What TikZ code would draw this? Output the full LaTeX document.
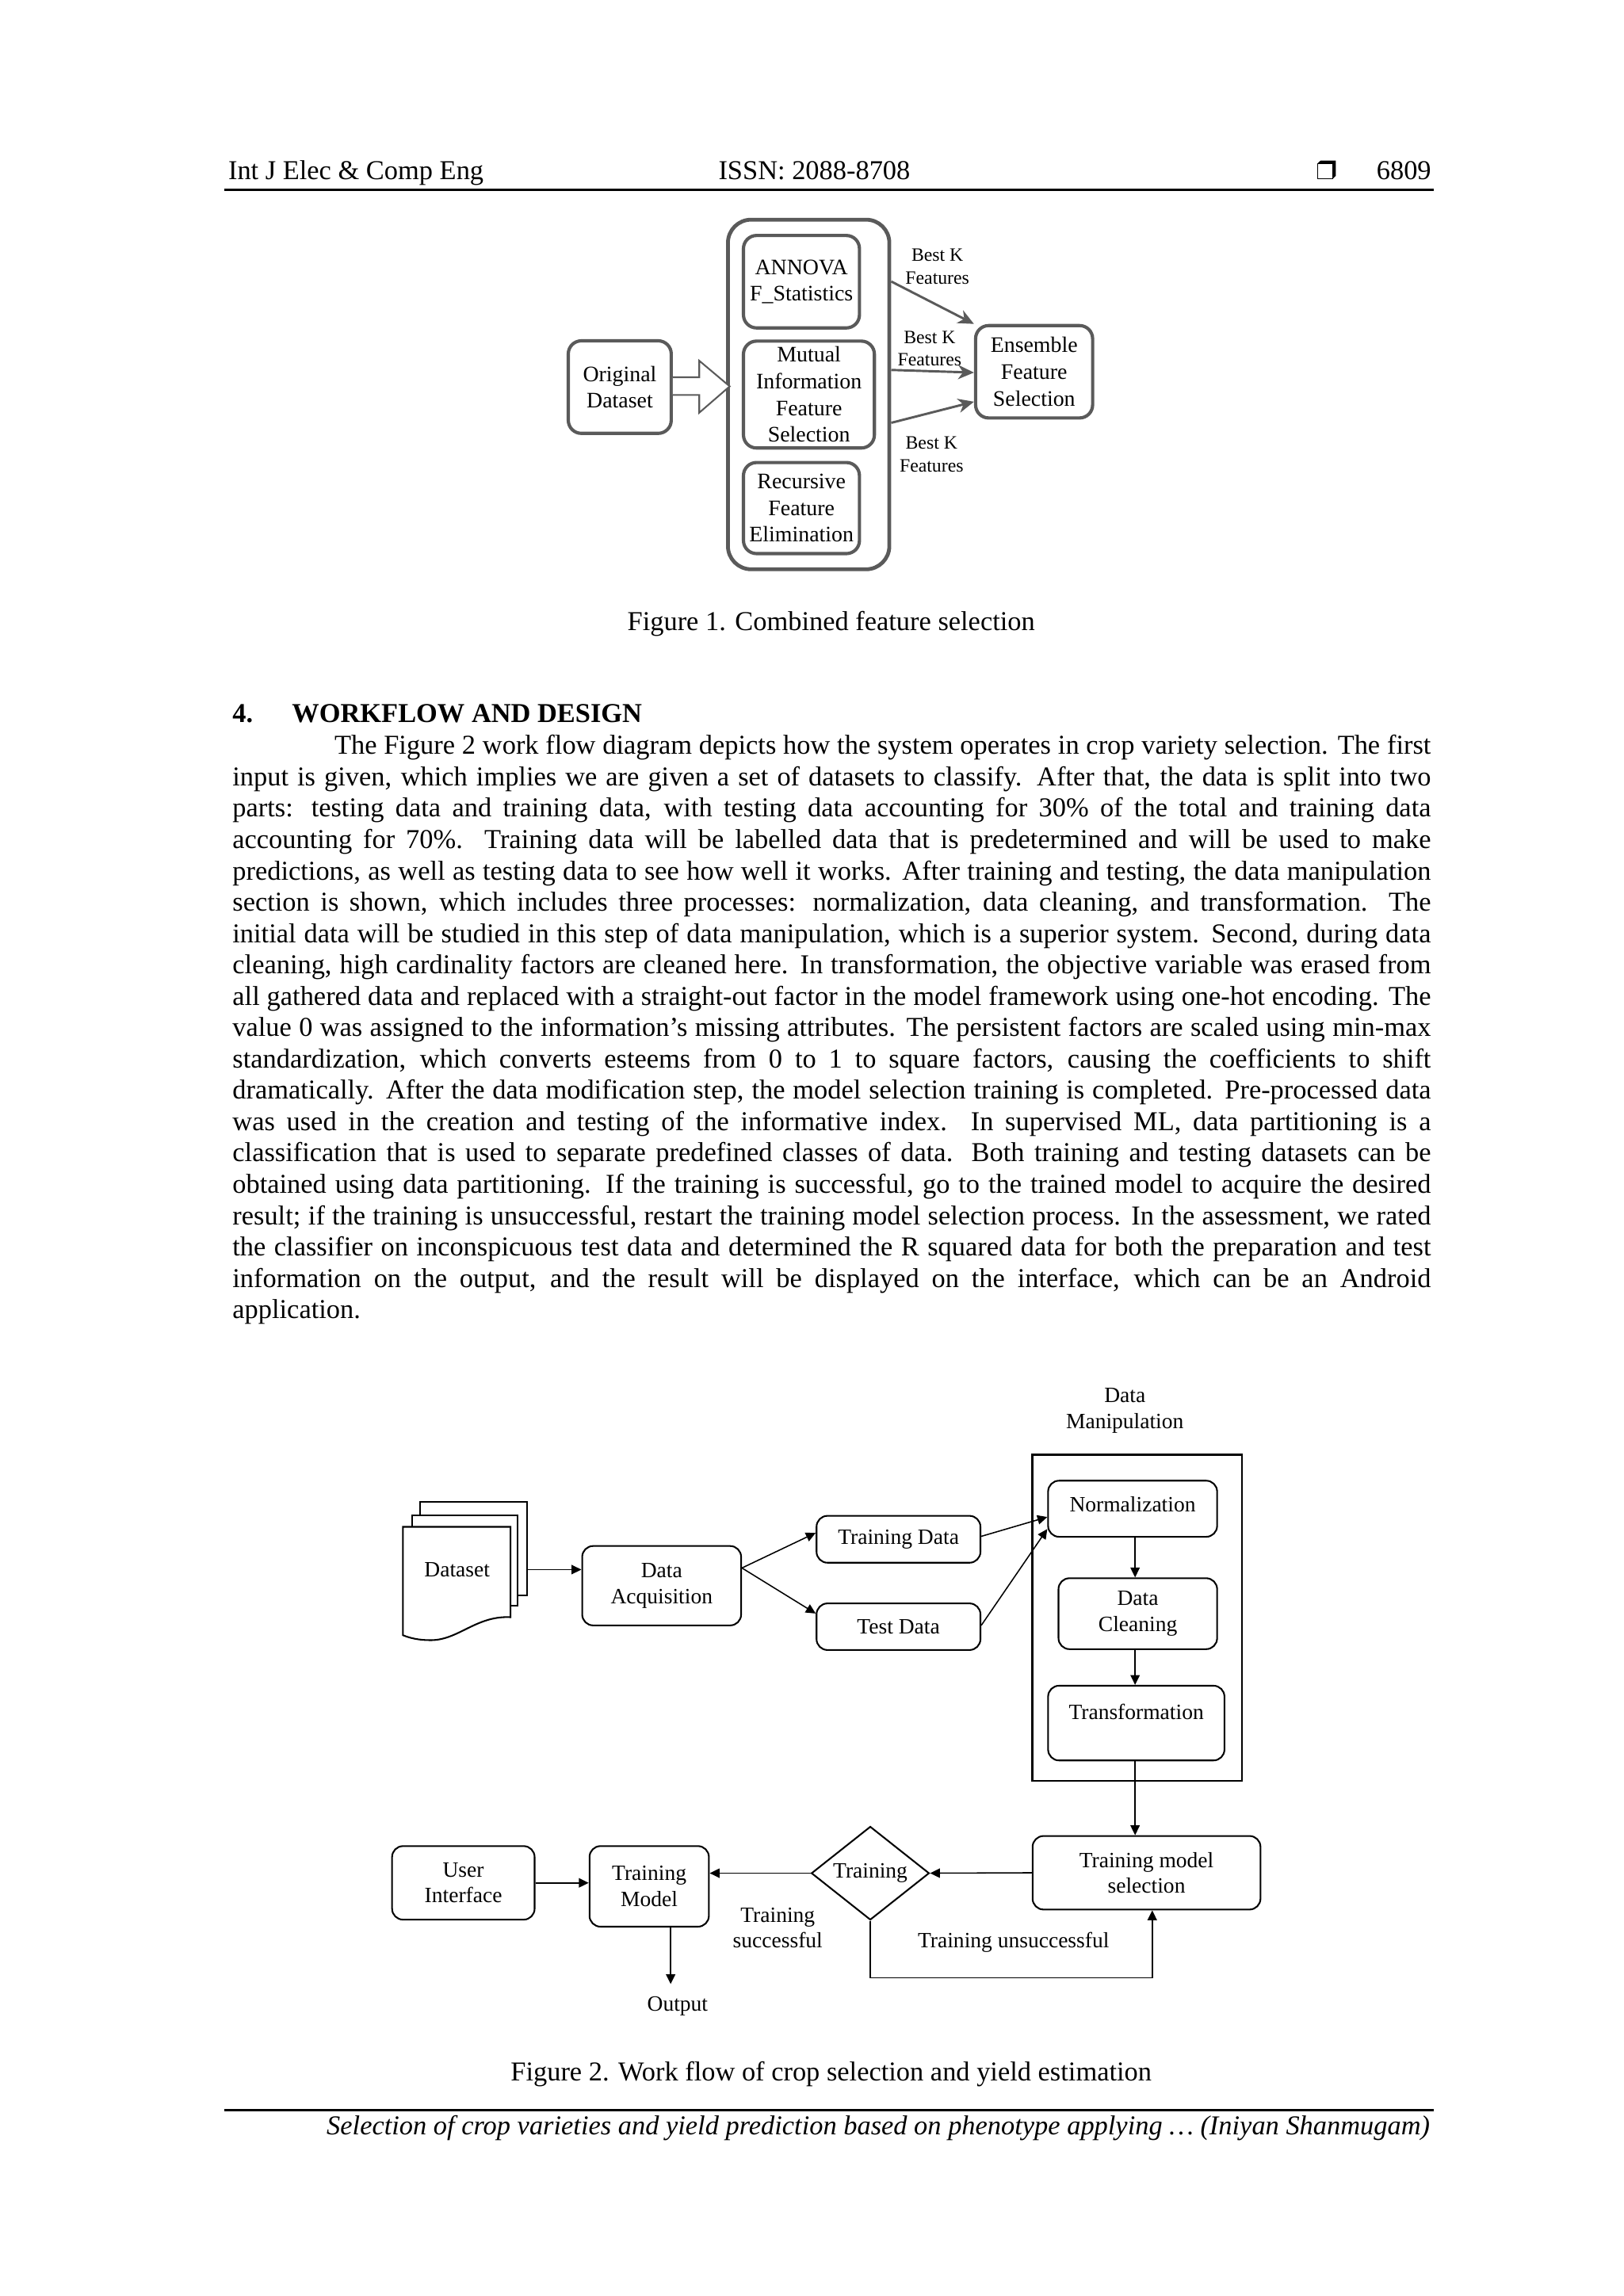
\documentclass[tikz,border=0pt]{standalone}
\usepackage{fontspec}
\setmainfont{Liberation Serif}
\usetikzlibrary{shapes.geometric,arrows.meta,calc}
\newlength\ux
\setlength\ux{0.53701pt}
\definecolor{fgray}{HTML}{5A5A5A}
\newcommand\fsbody{\fontsize{10}{11.5}\selectfont}
\newcommand\fsone{\fontsize{8.1}{9.8}\selectfont}
\newcommand\fsbk{\fontsize{6.9}{8.4}\selectfont}
\newcommand\fstwo{\fontsize{8}{9.4}\selectfont}
\newcommand\bodyline[4]{\node[anchor=base west, inner sep=0pt, font=\fsbody] (#1) at (#2) {\makebox[#3\ux][s]{#4}};}
% box node from its corner coordinates: name, style, x1, y1, x2, y2, text
\newcommand\bx[7]{%
  \pgfmathsetmacro\bxcx{(#3+#5)/2}%
  \pgfmathsetmacro\bxcy{(#4+#6)/2}%
  \pgfmathsetmacro\bxw{#5-#3}%
  \pgfmathsetmacro\bxh{#6-#4}%
  \node[#2, minimum width=\bxw\ux, minimum height=\bxh\ux] (#1) at (\bxcx,\bxcy) {#7};}
\begin{document}
\begin{tikzpicture}[x=\ux,y=-\ux,
  fbox/.style={draw=fgray, line width=1.2pt, rounded corners=4.8pt, inner sep=0pt, align=center, font=\fsone},
  fcont/.style={draw=fgray, line width=1.4pt, rounded corners=8.5pt, inner sep=0pt},
  farrow/.style={draw=fgray, line width=0.85pt, -{Stealth[length=5.8pt,width=5.2pt,inset=1.8pt]}},
  bk/.style={font=\fsbk, align=center, inner sep=0pt},
  rbox/.style={draw, line width=0.6pt, rounded corners=4pt, inner sep=0pt, align=center, font=\fstwo},
  sheet/.style={draw, line width=0.6pt, fill=white, inner sep=0pt},
  dmbox/.style={draw, line width=0.8pt, inner sep=0pt},
  a2/.style={draw, line width=0.45pt, -{Triangle[length=3.6pt,width=3.4pt]}},
  lab/.style={font=\fstwo, inner sep=0pt}
]
\useasboundingbox (0,0) rectangle (1108.5,1567.7);

% ---------- header ----------
\node[anchor=base west, font=\fsbody, inner sep=0pt] (hl) at (155.5,122.7) {Int J Elec \& Comp Eng};
\node[anchor=base, font=\fsbody, inner sep=0pt] (hc) at (556,122.7) {ISSN: 2088-8708};
\node[anchor=base east, font=\fsbody, inner sep=0pt] (hr) at (977.5,122.7) {6809};
\fill (899.5,111.6) -- (901.6,109.7) -- (912,109.7) -- (912,120.1) -- (910,122) -- (910,111.6) -- cycle;
\draw[line width=0.4pt] (899.5,111.6) rectangle (910,122);
\draw[line width=0.75pt] (153,129.5) -- (978.8,129.5);

% ---------- figure 1 ----------
\bx{cont}{fcont}{497}{150}{607.2}{388.7}{}
\bx{orig}{fbox}{388}{232.7}{458.3}{295.9}{Original\\Dataset}
\bx{anova}{fbox}{507.6}{160.8}{586.8}{223.9}{ANNOVA\\F\_Statistics}
\bx{mutual}{fbox}{507.6}{232.9}{597}{305.9}{Mutual\\Information\\Feature\\Selection}
\bx{rfe}{fbox}{507.6}{315.8}{586.8}{378}{Recursive\\Feature\\Elimination}
\bx{ens}{fbox}{666.1}{222.3}{746}{285.4}{Ensemble\\Feature\\Selection}

\draw[fgray, line width=0.6pt, fill=white] (orig.east) ++(0,-6.7) -- ++(18,0) -- ++(0,-11.3) -- ++(20.8,17.5) -- ++(-20.8,18) -- ++(0,-12.1) -- ++(-18,0);

\draw[farrow] (cont.east |- 0,192.2) -- (ens.north west);
\draw[farrow] (cont.east |- 0,252.6) -- (ens.west |- 0,254.4);
\draw[farrow] (cont.east |- 0,288.7) -- (ens.west |- 0,274.3);

\node[bk] (bk1) at (640,181.9) {Best K\\Features};
\node[bk] (bk2) at (634.7,238) {Best K\\Features};
\node[bk] (bk3) at (636,310.3) {Best K\\Features};

\node[anchor=base, font=\fsbody, inner sep=0pt] (cap1) at (567.5,430.3) {Figure 1. Combined feature selection};

% ---------- section text ----------
\node[anchor=base west, font=\fsbody\bfseries, inner sep=0pt] (hnum) at (158.4,493.5) {4.};
\node[anchor=base west, font=\fsbody\bfseries, inner sep=0pt] (htitle) at (199,493.5) {WORKFLOW AND DESIGN};

\bodyline{l1}{228,515.1}{748.6}{The Figure 2 work flow diagram depicts how the system operates in crop variety selection. The first}
\bodyline{l2}{158.4,536.5}{818.2}{input is given, which implies we are given a set of datasets to classify. After that, the data is split into two}
\bodyline{l3}{158.4,557.9}{818.2}{parts: testing data and training data, with testing data accounting for 30\% of the total and training data}
\bodyline{l4}{158.4,579.3}{818.2}{accounting for 70\%. Training data will be labelled data that is predetermined and will be used to make}
\bodyline{l5}{158.4,600.7}{818.2}{predictions, as well as testing data to see how well it works. After training and testing, the data manipulation}
\bodyline{l6}{158.4,622.1}{818.2}{section is shown, which includes three processes: normalization, data cleaning, and transformation. The}
\bodyline{l7}{158.4,643.5}{818.2}{initial data will be studied in this step of data manipulation, which is a superior system. Second, during data}
\bodyline{l8}{158.4,664.9}{818.2}{cleaning, high cardinality factors are cleaned here. In transformation, the objective variable was erased from}
\bodyline{l9}{158.4,686.3}{818.2}{all gathered data and replaced with a straight-out factor in the model framework using one-hot encoding. The}
\bodyline{l10}{158.4,707.7}{818.2}{value 0 was assigned to the information’s missing attributes. The persistent factors are scaled using min-max}
\bodyline{l11}{158.4,729.1}{818.2}{standardization, which converts esteems from 0 to 1 to square factors, causing the coefficients to shift}
\bodyline{l12}{158.4,750.5}{818.2}{dramatically. After the data modification step, the model selection training is completed. Pre-processed data}
\bodyline{l13}{158.4,771.9}{818.2}{was used in the creation and testing of the informative index. In supervised ML, data partitioning is a}
\bodyline{l14}{158.4,793.3}{818.2}{classification that is used to separate predefined classes of data. Both training and testing datasets can be}
\bodyline{l15}{158.4,814.7}{818.2}{obtained using data partitioning. If the training is successful, go to the trained model to acquire the desired}
\bodyline{l16}{158.4,836.1}{818.2}{result; if the training is unsuccessful, restart the training model selection process. In the assessment, we rated}
\bodyline{l17}{158.4,857.5}{818.2}{the classifier on inconspicuous test data and determined the R squared data for both the preparation and test}
\bodyline{l18}{158.4,878.9}{818.2}{information on the output, and the result will be displayed on the interface, which can be an Android}
\node[anchor=base west, inner sep=0pt, font=\fsbody] (l19) at (158.4,900.3) {application.};

% ---------- figure 2 ----------
\node[lab, align=center] (dmlab) at (768,963.1) {Data\\Manipulation};
\bx{dm}{dmbox}{705}{993.3}{848}{1216}{}

\bx{norm}{rbox, text height=5.5pt, text depth=3.5pt}{715.6}{1011}{831}{1049.3}{Normalization}
\bx{clean}{rbox}{722.7}{1077.6}{831}{1126}{Data\\Cleaning}
\bx{trans}{rbox, text height=5.5pt, text depth=8pt}{715.6}{1151}{836}{1202}{Transformation}

% dataset document stack
\bx{dsback}{sheet}{286.9}{1025.5}{359.9}{1089.4}{}
\bx{dsmid}{sheet}{281.5}{1034.9}{353.6}{1096.6}{}
\draw[line width=0.6pt, fill=white] (275.1,1042.5) -- (348.6,1042.5) -- (348.6,1104.2)
   .. controls (325,1103) and (313,1120) .. (293.9,1119.9)
   .. controls (286,1119.9) and (280,1118.5) .. (275.1,1116.5) -- cycle;
\node[font=\fstwo, inner sep=0pt] (ds) at (312.1,1071.7) {Dataset};

\bx{acq}{rbox}{397.5}{1055.6}{506}{1109.8}{Data\\Acquisition}
\bx{trd}{rbox}{557.5}{1035}{669.4}{1067}{Training Data}
\bx{ted}{rbox}{557.5}{1094.8}{669.4}{1126.6}{Test Data}

\bx{ui}{rbox}{267.7}{1260.5}{365}{1310.7}{User\\Interface}
\bx{tm}{rbox}{402.5}{1260.5}{484}{1315.5}{Training\\Model}
\bx{tms}{rbox}{705}{1253.6}{860.6}{1303.8}{Training model\\selection}
\node[draw, diamond, line width=0.6pt, inner sep=0pt, minimum width=80.5\ux, minimum height=57.8\ux, font=\fstwo] (dia) at (594.2,1279) {Training};

\draw[a2] (dsback.east |- ds.center) -- (ds.center -| acq.west);
\draw[a2] (acq.east |- 0,1070.6) -- (trd.west |- 0,1046.6);
\draw[a2] (acq.east |- 0,1070.6) -- (ted.west |- 0,1101.7);
\draw[a2] (trd.east |- 0,1049) -- (norm.west |- 0,1035.8);
\draw[a2] (ted.east |- 0,1109.8) -- (norm.west |- 0,1044);
\draw[a2] (775,0 |- norm.south) -- (775,0 |- clean.north);
\draw[a2] (775,0 |- clean.south) -- (775,0 |- trans.north);
\draw[a2] (775,0 |- trans.south) -- (775,0 |- tms.north);
\draw[a2] (tms.west) -- (dia.east);
\draw[a2] (dia.west) -- (dia.west -| tm.east);
\draw[a2] (ui.east) -- (ui.east -| tm.west);
\coordinate (loopc) at (786.7,1350.4);
\draw[a2] (dia.south) |- (loopc) -- (loopc |- tms.south);
\coordinate (outend) at (457.9,1354.7);
\draw[a2] (outend |- tm.south) -- (outend);

\node[lab, align=center] (tsucc) at (531,1316.5) {Training\\successful};
\node[lab, anchor=base] (tunsucc) at (692,1330) {Training unsuccessful};
\node[lab, anchor=base] (outp) at (462.6,1373.3) {Output};

\node[anchor=base, font=\fsbody, inner sep=0pt] (cap2) at (567.5,1420.9) {Figure 2. Work flow of crop selection and yield estimation};

% ---------- footer ----------
\draw[line width=0.75pt] (153,1440.7) -- (978.8,1440.7);
\node[anchor=base east, font=\fsbody\itshape, inner sep=0pt] (foot) at (976.6,1457.8) {Selection of crop varieties and yield prediction based on phenotype applying … (Iniyan Shanmugam)};
\end{tikzpicture}
\end{document}
